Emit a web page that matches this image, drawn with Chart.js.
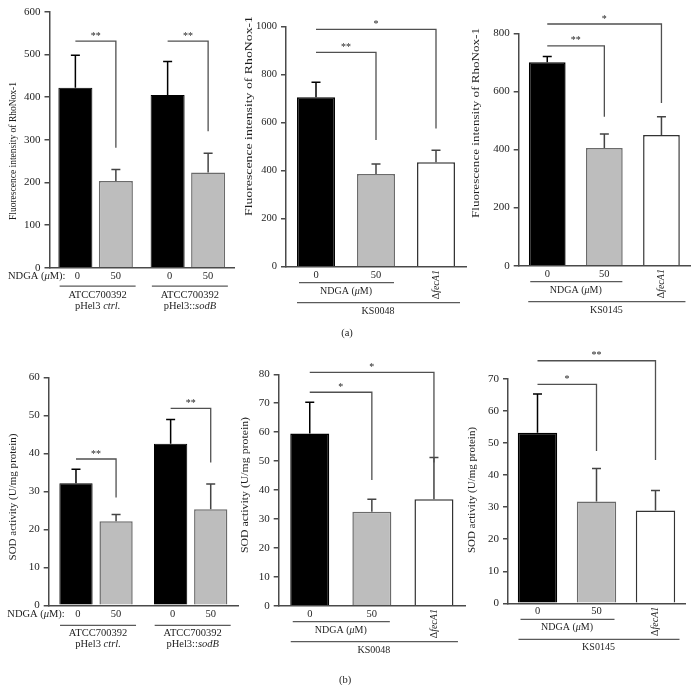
<!DOCTYPE html>
<html>
<head>
<meta charset="utf-8">
<script src="https://cdn.jsdelivr.net/npm/chart.js@4.4.1/dist/chart.umd.min.js"></script>
<style>
  body { margin: 0; background: #fff; }
  #fig { position: relative; width: 694px; height: 685px; }
  #fig canvas { position: absolute; left: 0; top: 0; }
</style>
</head>
<body>
<div id="fig">
  <canvas id="a1" width="694" height="685"></canvas>
  <canvas id="a2" width="694" height="685"></canvas>
  <canvas id="a3" width="694" height="685"></canvas>
  <canvas id="b1" width="694" height="685"></canvas>
  <canvas id="b2" width="694" height="685"></canvas>
  <canvas id="b3" width="694" height="685"></canvas>
</div>
<script>
const SERIF = '"Liberation Serif", "DejaVu Serif", serif';
const INK = '#1e1e1e';
const AXIS = '#4a4a4a';
const GREY = '#bdbdbd';
const GREY_EDGE = '#6b6b6b';
const W = 694, H = 685;

// ---- shared labels (text between * is italic) ----
const doseTitle = 'NDGA (*μ*M)';
const doseLabels = ['0', '50'];
const ksGroups = ['0', '50', 'Δ*fecA1*'];
const rhoTitle = 'Fluorescence intensity of RhoNox-1';
const sodTitle = 'SOD activity (U/mg protein)';

// ---- (a) RhoNox-1 ----
const a1Ticks = [0, 100, 200, 300, 400, 500, 600];
const a1Strains = [['ATCC700392', 'pHel3 *ctrl.*'], ['ATCC700392', 'pHel3::*sodB*']];
const a1Ndga0 = [422, 405];
const a1Ndga0Sd = [76, 78];
const a1Ndga50 = [203, 223];
const a1Ndga50Sd = [27, 45];
const a1Sig = [
  { from: [0, 0], to: [1, 0], at: 531, drop: 281, mark: '**' },
  { from: [0, 1], to: [1, 1], at: 531, drop: 320, mark: '**' }
];

const a2Ticks = [0, 200, 400, 600, 800, 1000];
const a2Values = [706, 386, 435];
const a2Sd = [63, 42, 50];
const a2Sig = [
  { from: [0, 0], to: [0, 1], at: 893, drop: 528, mark: '**' },
  { from: [0, 0], to: [0, 2], at: 989, drop: 576, mark: '*' }
];

const a3Ticks = [0, 200, 400, 600, 800];
const a3Values = [700, 405, 450];
const a3Sd = [20, 48, 63];
const a3Sig = [
  { from: [0, 0], to: [0, 1], at: 757, drop: 513, mark: '**' },
  { from: [0, 0], to: [0, 2], at: 832, drop: 560, mark: '*' }
];

// ---- (b) SOD activity ----
const b1Ticks = [0, 10, 20, 30, 40, 50, 60];
const b1Ndga0 = [32.1, 42.5];
const b1Ndga0Sd = [3.7, 6.4];
const b1Ndga50 = [22.1, 25.3];
const b1Ndga50Sd = [1.8, 6.6];
const b1Sig = [
  { from: [0, 0], to: [1, 0], at: 38.5, drop: 28.4, mark: '**' },
  { from: [0, 1], to: [1, 1], at: 51.8, drop: 37.6, mark: '**' }
];

const b2Ticks = [0, 10, 20, 30, 40, 50, 60, 70, 80];
const b2Values = [59.5, 32.5, 36.8];
const b2Sd = [10.8, 4.3, 14.4];
const b2Sig = [
  { from: [0, 0], to: [0, 1], at: 73.8, drop: 43.5, mark: '*' },
  { from: [0, 0], to: [0, 2], at: 80.7, drop: 49.5, mark: '*' }
];

const b3Ticks = [0, 10, 20, 30, 40, 50, 60, 70];
const b3Values = [53.2, 31.8, 29.0];
const b3Sd = [12.1, 10.3, 6.2];
const b3Sig = [
  { from: [0, 0], to: [0, 1], at: 68.3, drop: 47.5, mark: '*' },
  { from: [0, 0], to: [0, 2], at: 75.7, drop: 44.7, mark: '**' }
];

// ---------- drawing helpers ----------
function setFont(ctx, size, italic) {
  ctx.font = (italic ? 'italic ' : '') + size + 'px ' + SERIF;
}

// draws text with *italic* parts
function drawRich(ctx, text, x, y, size, align) {
  const parts = String(text).split('*');
  const widths = parts.map((p, i) => { setFont(ctx, size, i % 2 === 1); return ctx.measureText(p).width; });
  const total = widths.reduce((s, w) => s + w, 0);
  let cx = align === 'left' ? x : (align === 'right' ? x - total : x - total / 2);
  ctx.textAlign = 'left';
  ctx.textBaseline = 'middle';
  parts.forEach((p, i) => {
    setFont(ctx, size, i % 2 === 1);
    ctx.fillText(p, cx, y);
    cx += widths[i];
  });
  return total;
}

function hline(ctx, xa, xb, y) {
  ctx.beginPath();
  ctx.moveTo(xa, y);
  ctx.lineTo(xb, y);
  ctx.stroke();
}

// ---------- plugins ----------
function errorBarsPlugin() {
  return {
    id: 'errorBars',
    afterDatasetsDraw(chart) {
      const ctx = chart.ctx, yScale = chart.scales.y;
      chart.data.datasets.forEach((ds, di) => {
        chart.getDatasetMeta(di).data.forEach((bar, i) => {
          const top = yScale.getPixelForValue(ds.data[i] + ds.sd[i]);
          const col = Array.isArray(ds.errColor) ? ds.errColor[i] : ds.errColor;
          ctx.save();
          ctx.strokeStyle = col;
          ctx.lineWidth = 1.5;
          ctx.beginPath();
          ctx.moveTo(bar.x, bar.y);
          ctx.lineTo(bar.x, top);
          ctx.moveTo(bar.x - 4.5, top);
          ctx.lineTo(bar.x + 4.5, top);
          ctx.stroke();
          ctx.restore();
        });
      });
    }
  };
}

function sigPlugin(list) {
  return {
    id: 'sig',
    afterDatasetsDraw(chart) {
      const ctx = chart.ctx, y = chart.scales.y;
      list.forEach(s => {
        const xa = chart.getDatasetMeta(s.from[0]).data[s.from[1]].x;
        const xb = chart.getDatasetMeta(s.to[0]).data[s.to[1]].x;
        const yl = y.getPixelForValue(s.at);
        const yd = y.getPixelForValue(s.drop);
        ctx.save();
        ctx.strokeStyle = '#505050';
        ctx.lineWidth = 1.3;
        ctx.beginPath();
        ctx.moveTo(xa, yl);
        ctx.lineTo(xb, yl);
        ctx.lineTo(xb, yd);
        ctx.stroke();
        ctx.fillStyle = INK;
        setFont(ctx, 10, false);
        ctx.textAlign = 'center';
        ctx.textBaseline = 'alphabetic';
        ctx.fillText(s.mark, (xa + xb) / 2, yl - 2.5);
        ctx.restore();
      });
    }
  };
}

function yTitlePlugin(text, pos) {
  return {
    id: 'yTitle',
    afterDraw(chart) {
      const ctx = chart.ctx;
      ctx.save();
      ctx.translate(pos.x, pos.y);
      ctx.rotate(-Math.PI / 2);
      setFont(ctx, 10.5, false);
      const w = ctx.measureText(text).width;
      ctx.scale(pos.len / w, 1);
      ctx.fillStyle = INK;
      drawRich(ctx, text, 0, 0, 10.5, 'center');
      ctx.restore();
    }
  };
}

// dose + strain labels under the two-strain panels
function groupedAxisPlugin(strains, off) {
  return {
    id: 'under',
    afterDraw(chart) {
      const ctx = chart.ctx, base = chart.chartArea.bottom;
      const m0 = chart.getDatasetMeta(0).data, m1 = chart.getDatasetMeta(1).data;
      ctx.save();
      ctx.fillStyle = INK;
      ctx.strokeStyle = '#5a5a5a';
      ctx.lineWidth = 1.2;
      drawRich(ctx, doseTitle + ':', off.prefixX, base + off.dose, 10.5, 'left');
      strains.forEach((lines, g) => {
        drawRich(ctx, doseLabels[0], m0[g].x + 2, base + off.dose, 10.5, 'center');
        drawRich(ctx, doseLabels[1], m1[g].x, base + off.dose, 10.5, 'center');
        const mid = (m0[g].x + m1[g].x) / 2 + 2;
        hline(ctx, mid - 38, mid + 38, base + off.line);
        lines.forEach((t, k) => drawRich(ctx, t, mid, base + off.text + k * 11, 10.5, 'center'));
      });
      ctx.restore();
    }
  };
}

// dose / mutant / strain labels under the KS panels
function strainAxisPlugin(strain, off, tag) {
  return {
    id: 'under',
    afterDraw(chart) {
      const ctx = chart.ctx, base = chart.chartArea.bottom;
      const c = chart.getDatasetMeta(0).data.map(b => b.x);
      ctx.save();
      ctx.fillStyle = INK;
      ctx.strokeStyle = '#5a5a5a';
      ctx.lineWidth = 1.2;
      drawRich(ctx, ksGroups[0], c[0], base + off.dose, 10.5, 'center');
      drawRich(ctx, ksGroups[1], c[1], base + off.dose, 10.5, 'center');
      hline(ctx, c[0] - 17, c[1] + 18, base + off.ndgaLine);
      drawRich(ctx, doseTitle, (c[0] + c[1]) / 2, base + off.ndgaText, 10, 'center');
      hline(ctx, c[0] - 19, c[2] + 24, base + off.strainLine);
      drawRich(ctx, strain, (c[0] + c[2]) / 2 + 2, base + off.strainText, 10, 'center');
      if (tag) drawRich(ctx, tag.text, tag.x, tag.y, 10.5, 'center');
      ctx.save();
      ctx.translate(c[2], base + off.mutant);
      ctx.rotate(-Math.PI / 2);
      drawRich(ctx, ksGroups[2], 0, 0, 10, 'center');
      ctx.restore();
      ctx.restore();
    }
  };
}

// ---------- chart factory ----------
function makePanel(id, box, ticks, data, pct, plugins) {
  return new Chart(document.getElementById(id), {
    type: 'bar',
    data: data,
    options: {
      responsive: false,
      animation: false,
      layout: {
        padding: { left: box.x0 - 40, right: W - box.x1, top: box.yTop, bottom: H - box.yBase }
      },
      datasets: { bar: { barPercentage: pct.bar, categoryPercentage: pct.cat } },
      plugins: { legend: { display: false }, tooltip: { enabled: false } },
      scales: {
        x: {
          grid: { display: false },
          border: { display: true, color: AXIS, width: 1.5 },
          ticks: { display: false },
          afterFit: s => { s.height = 0; }
        },
        y: {
          min: 0,
          max: ticks[ticks.length - 1],
          ticks: {
            stepSize: ticks[1] - ticks[0],
            color: INK,
            padding: 4,
            font: { family: SERIF, size: box.tickSize || 11 },
            callback: v => String(v)
          },
          grid: { drawOnChartArea: false, drawTicks: true, tickLength: 5, color: AXIS, lineWidth: 1.5 },
          border: { color: AXIS, width: 1.5 },
          afterFit: s => { s.width = 40; }
        }
      }
    },
    plugins: [errorBarsPlugin()].concat(plugins)
  });
}

function pairData(labels, v0, sd0, v50, sd50) {
  return {
    labels: labels,
    datasets: [
      { data: v0, sd: sd0, backgroundColor: '#000', borderColor: '#000', borderWidth: 1, errColor: '#000' },
      { data: v50, sd: sd50, backgroundColor: GREY, borderColor: GREY_EDGE, borderWidth: 1.5, errColor: '#444' }
    ]
  };
}

function tripleData(values, sd) {
  return {
    labels: ksGroups,
    datasets: [{
      data: values,
      sd: sd,
      backgroundColor: ['#000', GREY, '#fff'],
      borderColor: ['#000', GREY_EDGE, '#333'],
      borderWidth: 1.5,
      errColor: ['#000', '#444', '#444']
    }]
  };
}

const tripleOff = { dose: 8.3, ndgaLine: 16, ndgaText: 24.5, mutant: 18, strainLine: 36, strainText: 44.5 };

// (a)
makePanel('a1', { x0: 49.5, x1: 234, yTop: 11.7, yBase: 267.7 }, a1Ticks,
  pairData(['ctrl', 'sodB'], a1Ndga0, a1Ndga0Sd, a1Ndga50, a1Ndga50Sd),
  { cat: 0.878, bar: 0.84 },
  [sigPlugin(a1Sig), yTitlePlugin(rhoTitle, { x: 13.3, y: 151, len: 138 }),
   groupedAxisPlugin(a1Strains, { prefixX: 8, dose: 9, line: 18.5, text: 27.5 })]);

makePanel('a2', { x0: 286, x1: 466, yTop: 26.7, yBase: 266.7, tickSize: 10.5 }, a2Ticks,
  tripleData(a2Values, a2Sd), { cat: 1, bar: 0.633 },
  [sigPlugin(a2Sig), yTitlePlugin(rhoTitle, { x: 249, y: 116, len: 200 }),
   strainAxisPlugin('KS0048', tripleOff, { text: '(a)', x: 347, y: 333 })]);

makePanel('a3', { x0: 518.7, x1: 690, yTop: 33.3, yBase: 265.7 }, a3Ticks,
  tripleData(a3Values, a3Sd), { cat: 1, bar: 0.643 },
  [sigPlugin(a3Sig), yTitlePlugin(rhoTitle, { x: 476.7, y: 123, len: 190 }),
   strainAxisPlugin('KS0145', tripleOff, null)]);

// (b)
makePanel('b1', { x0: 48.7, x1: 238, yTop: 377.3, yBase: 605.3 }, b1Ticks,
  pairData(['ctrl', 'sodB'], b1Ndga0, b1Ndga0Sd, b1Ndga50, b1Ndga50Sd),
  { cat: 0.847, bar: 0.83 },
  [sigPlugin(b1Sig), yTitlePlugin(sodTitle, { x: 13.3, y: 497, len: 127 }),
   groupedAxisPlugin(a1Strains, { prefixX: 7.3, dose: 8.7, line: 20, text: 27.5 })]);

makePanel('b2', { x0: 278.7, x1: 465, yTop: 374.3, yBase: 605.7 }, b2Ticks,
  tripleData(b2Values, b2Sd), { cat: 1, bar: 0.628 },
  [sigPlugin(b2Sig), yTitlePlugin(sodTitle, { x: 245, y: 485, len: 136 }),
   strainAxisPlugin('KS0048', tripleOff, { text: '(b)', x: 345, y: 680 })]);

makePanel('b3', { x0: 508, x1: 685, yTop: 379, yBase: 603.3 }, b3Ticks,
  tripleData(b3Values, b3Sd), { cat: 1, bar: 0.668 },
  [sigPlugin(b3Sig), yTitlePlugin(sodTitle, { x: 472, y: 490, len: 126 }),
   strainAxisPlugin('KS0145', tripleOff, null)]);
</script>
</body>
</html>
